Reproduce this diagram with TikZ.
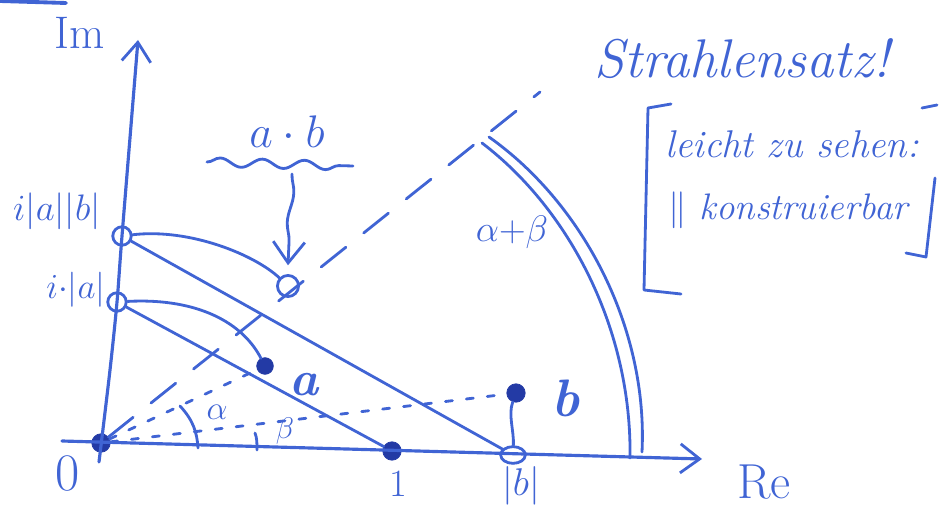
\RequirePackage{fix-cm}
\documentclass[tikz,border=0pt]{standalone}
\usetikzlibrary{arrows.meta,decorations.pathmorphing,shapes.geometric}
\definecolor{ink}{RGB}{64,100,212}
\definecolor{darkink}{RGB}{35,58,165}
\begin{document}
\begin{tikzpicture}[x=0.02cm,y=-0.02cm,
  pen/.style={draw=ink,line width=1.6pt,line cap=round,line join=round},
  axisline/.style={pen,line width=1.8pt},
  barb/.style={-{Straight Barb[length=#1,width=1.5*#1,line width=1.6pt]}},
  dot/.style={circle,fill=darkink,draw=darkink,inner sep=0pt,minimum size=9.5pt},
  ring/.style={circle,draw=ink,line width=1.6pt,inner sep=0pt,minimum size=10.5pt},
  longdash/.style={pen,dash pattern=on 18pt off 13pt},
  shortdash/.style={pen,dash pattern=on 4pt off 8pt},
  lbl/.style={text=ink,inner sep=0pt,font=\fontsize{#1}{#1}\selectfont},
  lbl/.default=22,
  note/.style={text=ink,inner sep=0pt,anchor=base,font=\fontsize{#1}{#1}\selectfont\itshape}
]
\useasboundingbox (0,0) rectangle (939,506);

% ---- points ----
\node[dot,minimum size=10.5pt] (O) at (101,443) {};
\node[dot,minimum size=10.5pt] (one) at (392,451) {};
\node[ellipse,draw=ink,line width=1.6pt,inner sep=0pt,minimum width=14pt,minimum height=9.5pt] (absb) at (513,455) {};
\node[dot] (pa) at (265,366) {};
\node[dot,minimum size=10.5pt] (pb) at (516,393) {};
\node[ring] (iab) at (122,236) {};
\node[ring] (ia) at (117,302) {};
\node[ring,minimum size=12pt] (ab) at (288,286) {};

% ---- free ends ----
\coordinate (reStart) at (62,441);
\coordinate (reEnd) at (702,459);
\coordinate (dashEnd) at (540,92);
\coordinate (arrStart) at (292,174);
\coordinate (ulStart) at (207,162);
\coordinate (ulEnd) at (353,166);

% ---- axes ----
\draw[axisline,barb=11pt] (reStart) -- (reEnd);
\draw[axisline,barb=11pt] plot[smooth] coordinates {(99,462) (110,370) (117,302) (122,236) (138,40)};

% ---- rays ----
\draw[longdash] (O) -- (dashEnd);
\draw[shortdash] (O) -- (pa);
\draw[shortdash] (O) -- (pb);

% ---- similar triangles ----
\draw[pen] (ia) -- (one);
\draw[pen] (iab) -- (absb);

% ---- rotation arcs ----
\draw[pen] (ia) .. controls (190,298) and (240,318) .. (pa);
\draw[pen] (iab) .. controls (190,228) and (255,255) .. (ab);
\draw[pen] (pb) .. controls (508,415) and (514,430) .. (absb);

% ---- angles ----
\draw[pen] (180,406) .. controls (193,420) and (197,432) .. (198,448);
\draw[pen] (255,433) .. controls (257,438) and (257,443) .. (257,450);
\draw[pen] (482,143) .. controls (570,210) and (632,330) .. (630,458);
\draw[pen] (489,137) .. controls (585,205) and (648,330) .. (642,452);

% ---- a.b annotation ----
\draw[pen,decorate,decoration={snake,amplitude=2.5pt,segment length=24pt}] (ulStart) -- (ulEnd);
\draw[pen,barb=12pt,decorate,decoration={snake,amplitude=1.5pt,segment length=34pt,post length=10pt}] (arrStart) -- ([yshift=5pt]ab.north);

% ---- bracket ----
\draw[pen] (671,104) -- (648,108) -- (644,290) -- (681,294);
\draw[pen] (922,108) -- (937,105);
\draw[pen] (906,253) -- (926,257) -- (935,178);

% ---- stray stroke at top ----
\draw[pen,line width=2.2pt] (0,1) -- (66,3);

% ---- labels ----
\node[lbl=26] (lIm) at (80,33) {Im};
\node[lbl=28] (lRe) at (764,482) {Re};
\node[lbl=30] (l0) at (68,473) {0};
\node[lbl=22] (l1) at (398,484) {1};
\node[lbl=22] (lb) at (521,486) {$|b|$};
\node[lbl=21] (liab) at (57,211) {$i|a||b|$};
\node[lbl=20] (lia) at (76,290) {$i{\cdot}|a|$};
\node[lbl=26] (lab) at (287,132) {$a\cdot b$};
\node[lbl=28] (pta) at (305,385) {\textbf{\textit{a}}};
\node[lbl=30] (ptb) at (566,398) {\textbf{\textit{b}}};
\node[lbl=19] (lal) at (217,412) {$\alpha$};
\node[lbl=17] (lbe) at (285,431) {$\beta$};
\node[lbl=21] (lsum) at (512,232) {$\alpha{+}\beta$};

\node[note=31] (lStr) at (742,78) {Strahlensatz!};
\node[note=22] (lnote1) at (792,158) {leicht zu sehen:};
\node[note=21] (lnote2) at (788,220) {$\parallel$ konstruierbar};
\end{tikzpicture}
\end{document}
